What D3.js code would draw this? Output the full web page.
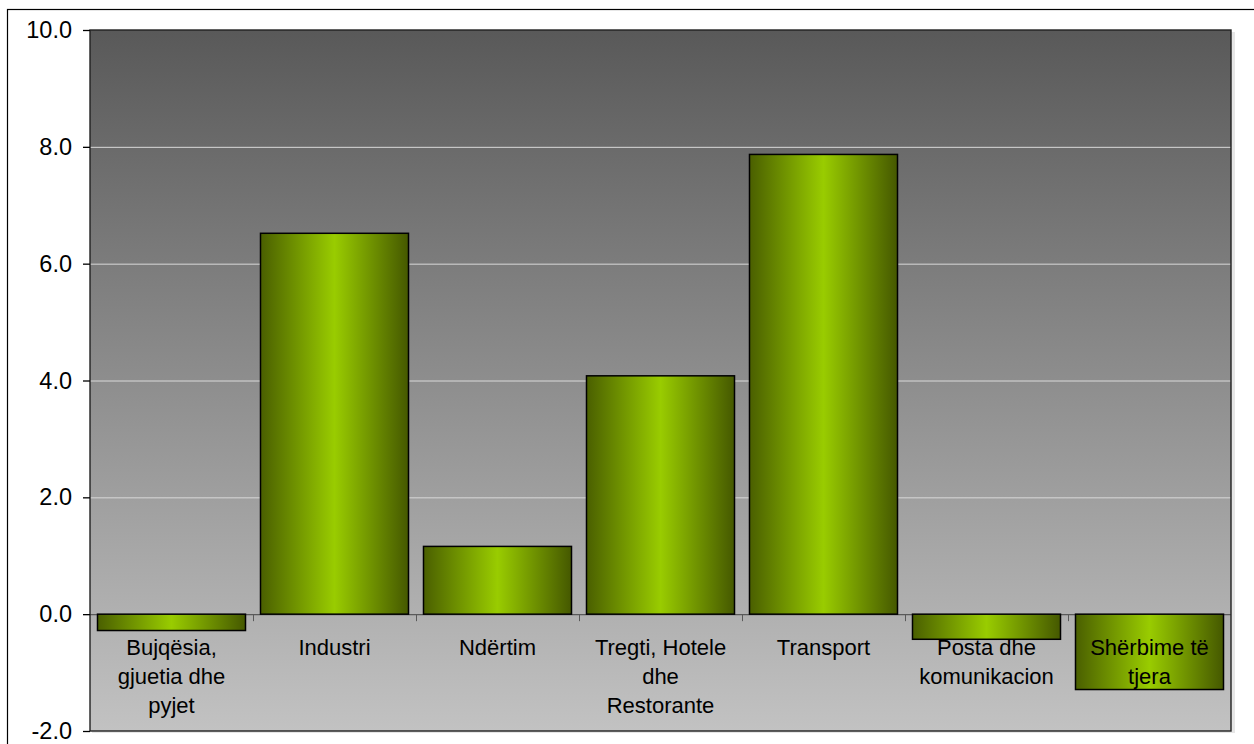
<!DOCTYPE html>
<html>
<head>
<meta charset="utf-8">
<style>
    body { margin: 0; background: #fff; }
    svg { display: block; font-family: Arial, 'Liberation Sans', sans-serif; }
    .y .tick text { font-size: 23.5px; fill: #000; }
    .y .domain { display: none; }
    .cat-label { font-size: 22px; fill: #000; }
</style>
</head>
<body>
<svg width="1254" height="744"></svg>
<script src="https://d3js.org/d3.v7.min.js"></script>
<script>
    // categories, label lines and values
    const categories = ["Bujqesia", "Industri", "Ndertim", "Tregti", "Transport", "Posta", "Sherbime"];
    const labelLines = [
        ["Bujqësia,", "gjuetia dhe", "pyjet"],
        ["Industri"],
        ["Ndërtim"],
        ["Tregti, Hotele", "dhe", "Restorante"],
        ["Transport"],
        ["Posta dhe", "komunikacion"],
        ["Shërbime të", "tjera"]
    ];
    const values = [-0.28, 6.52, 1.16, 4.08, 7.87, -0.43, -1.29];
    const yTicks = [-2, 0, 2, 4, 6, 8, 10];

    const svg = d3.select("svg");
    const plot = { left: 90, right: 1231, top: 30, bottom: 731 };

    const defs = svg.append("defs");
    const bg = defs.append("linearGradient")
        .attr("id", "bg").attr("x1", 0).attr("y1", 0).attr("x2", 0).attr("y2", 1);
    bg.append("stop").attr("offset", "0%").attr("stop-color", "#595959");
    bg.append("stop").attr("offset", "100%").attr("stop-color", "#c2c2c2");

    const barGrad = defs.append("linearGradient")
        .attr("id", "bar").attr("x1", 0).attr("y1", 0).attr("x2", 1).attr("y2", 0);
    barGrad.append("stop").attr("offset", "0%").attr("stop-color", "#4a5f00");
    barGrad.append("stop").attr("offset", "50%").attr("stop-color", "#99cc00");
    barGrad.append("stop").attr("offset", "100%").attr("stop-color", "#455800");

    // outer chart frame
    svg.append("rect")
        .attr("x", 7.5).attr("y", 9.5)
        .attr("width", 1300).attr("height", 800)
        .attr("fill", "none").attr("stroke", "#000").attr("stroke-width", 1.2);

    let x = d3.scaleBand()
        .domain(categories)
        .range([plot.left, plot.right])
        .paddingInner(0.092)
        .paddingOuter(0.046);

    let band = d3.scaleBand()
        .domain(categories)
        .range([plot.left, plot.right]);

    let y = d3.scaleLinear()
        .domain([-2, 10])
        .range([plot.bottom, plot.top]);

    // shadow + plot background
    svg.append("rect")
        .attr("x", plot.left + 2).attr("y", plot.top + 2)
        .attr("width", plot.right - plot.left + 2).attr("height", plot.bottom - plot.top)
        .attr("fill", "#e6e6e6");
    svg.append("rect")
        .attr("x", plot.left).attr("y", plot.top)
        .attr("width", plot.right - plot.left).attr("height", plot.bottom - plot.top)
        .attr("fill", "url(#bg)");

    // gridlines
    svg.append("g")
        .selectAll("line")
        .data(yTicks.filter(d => d > 0 && d < 10))
        .join("line")
        .attr("x1", plot.left).attr("x2", plot.right)
        .attr("y1", d => y(d) + 0.5).attr("y2", d => y(d) + 0.5)
        .attr("stroke", "#d9d9d9").attr("stroke-width", 1);

    // zero line
    svg.append("line")
        .attr("x1", plot.left).attr("x2", plot.right)
        .attr("y1", y(0) + 0.5).attr("y2", y(0) + 0.5)
        .attr("stroke", "#5a5a5a").attr("stroke-width", 1.2);

    // category ticks on the zero line
    svg.append("g")
        .selectAll("line")
        .data(categories.slice(1))
        .join("line")
        .attr("x1", d => band(d) + 0.5).attr("x2", d => band(d) + 0.5)
        .attr("y1", y(0)).attr("y2", y(0) + 7)
        .attr("stroke", "#5a5a5a").attr("stroke-width", 1);

    // bars
    svg.append("g")
        .selectAll("rect")
        .data(values)
        .join("rect")
        .attr("x", (d, i) => x(categories[i]))
        .attr("width", x.bandwidth())
        .attr("y", d => y(Math.max(0, d)))
        .attr("height", d => Math.abs(y(d) - y(0)))
        .attr("fill", "url(#bar)")
        .attr("stroke", "#000")
        .attr("stroke-width", 1.5);

    // plot frame
    svg.append("rect")
        .attr("x", plot.left).attr("y", plot.top)
        .attr("width", plot.right - plot.left).attr("height", plot.bottom - plot.top)
        .attr("fill", "none").attr("stroke", "#222").attr("stroke-width", 1.4);

    // y axis
    let yAxisSettings = d3.axisLeft(y)
        .tickValues(yTicks)
        .tickSize(7)
        .tickPadding(11)
        .tickFormat(d => d.toFixed(1));

    svg.append("g")
        .attr("class", "y axis")
        .attr("transform", `translate(${plot.left},0)`)
        .call(yAxisSettings)
        .call(g => g.selectAll(".tick line").attr("stroke", "#000").attr("stroke-width", 1.3));

    // category labels
    const labels = svg.append("g")
        .selectAll("text")
        .data(categories)
        .join("text")
        .attr("class", "cat-label")
        .attr("text-anchor", "middle")
        .attr("x", d => band(d) + band.bandwidth() / 2)
        .attr("y", 655);

    labels.selectAll("tspan")
        .data((d, i) => labelLines[i])
        .join("tspan")
        .attr("x", function () { return d3.select(this.parentNode).attr("x"); })
        .attr("dy", (d, i) => i === 0 ? 0 : 29)
        .text(d => d);
</script>
</body>
</html>
